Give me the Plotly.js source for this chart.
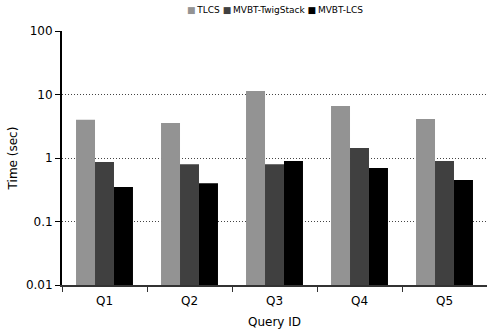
<!DOCTYPE html>
<html>
<head>
<meta charset="utf-8">
<script src="https://cdn.plot.ly/plotly-3.0.1.min.js"></script>
<style>html,body{margin:0;padding:0;background:#fff;}#chart{width:487px;height:332px;}</style>
</head>
<body>
<div id="chart"></div>
<script>
const categories = ["Q1", "Q2", "Q3", "Q4", "Q5"];
const seriesNames = ["TLCS", "MVBT-TwigStack", "MVBT-LCS"];
const tlcs = [4.0, 3.57, 11.4, 6.6, 4.13];
const mvbtTwigStack = [0.865, 0.80, 0.80, 1.44, 0.90];
const mvbtLcs = [0.35, 0.40, 0.90, 0.695, 0.45];
const colors = ["#939393", "#404040", "#000000"];
const yTickVals = [0.01, 0.1, 1, 10, 100];
const yTickText = ["0.01", "0.1", "1", "10", "100"];

const font = "DejaVu Sans, Verdana, sans-serif";
const data = [tlcs, mvbtTwigStack, mvbtLcs].map((vals, i) => ({
  type: "bar",
  name: seriesNames[i],
  x: categories,
  y: vals,
  marker: {color: colors[i], line: {width: 0}}
}));

// compact legend drawn as one text line: coloured square + series name
const legendText = seriesNames.map((n, i) =>
  '<span style="color:' + colors[i] + '">\u25A0</span>\u2009' + n).join(' ');

const layout = {
  width: 487, height: 332,
  margin: {l: 62, r: 0, t: 31, b: 47},
  paper_bgcolor: "#fff", plot_bgcolor: "#fff",
  font: {family: font, size: 12, color: "#000"},
  barmode: "group",
  bargap: 0.33, bargroupgap: 0,
  showlegend: false,
  annotations: [{
    xref: "paper", yref: "paper", x: 0.5, y: 1.083,
    xanchor: "center", yanchor: "middle",
    text: legendText, showarrow: false,
    font: {family: font, size: 9, color: "#000"}
  }],
  xaxis: {
    type: "category",
    tickson: "boundaries",
    ticks: "outside", ticklen: 5, tickcolor: "#333", tickwidth: 1,
    showline: true, linecolor: "#333", linewidth: 2,
    showgrid: false, zeroline: false,
    ticklabelstandoff: 4,
    tickfont: {family: font, size: 12, color: "#000"},
    title: {text: "Query ID", font: {family: font, size: 12, color: "#000"}, standoff: 10}
  },
  yaxis: {
    type: "log",
    range: [-2, 2],
    tickvals: yTickVals, ticktext: yTickText,
    ticks: "outside", ticklen: 5, tickcolor: "#000", tickwidth: 1,
    showline: true, linecolor: "#000", linewidth: 2,
    showgrid: true, gridcolor: "#444", gridwidth: 1, griddash: "1px,2px",
    zeroline: false,
    tickfont: {family: font, size: 12, color: "#000"},
    title: {text: "Time (sec)", font: {family: font, size: 12, color: "#000"}, standoff: 6}
  }
};

Plotly.newPlot("chart", data, layout, {staticPlot: true, displayModeBar: false});
</script>
</body>
</html>
